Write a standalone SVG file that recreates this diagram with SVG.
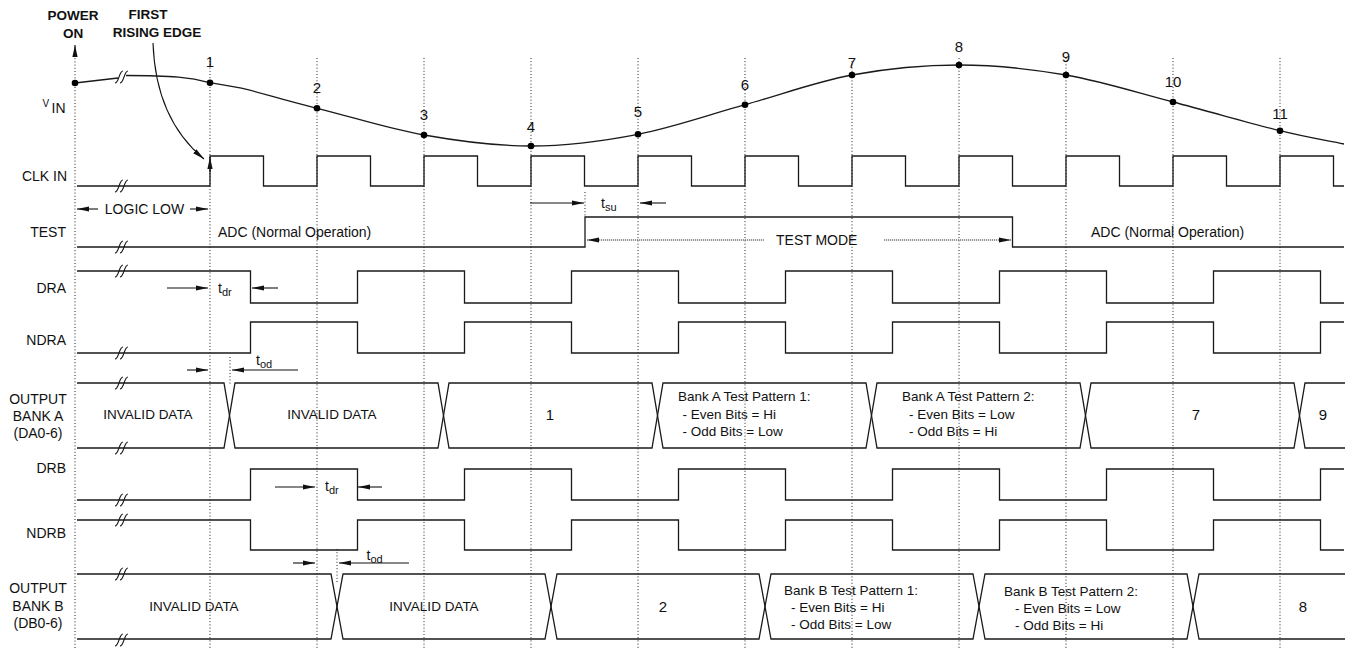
<svg xmlns="http://www.w3.org/2000/svg" width="1352" height="648" viewBox="0 0 1352 648">
<style>
text{font-family:"Liberation Sans",Arial,sans-serif;fill:#111}
.l{font-size:14px}
.n{font-size:15px;text-anchor:middle}
.m{font-size:13.5px}
.bold{font-weight:bold;font-size:13.5px}
.c{text-anchor:middle}
.e{text-anchor:end}
.sig{fill:none;stroke:#1a1a1a;stroke-width:1.3}
.grid{fill:none;stroke:#222;stroke-width:1;stroke-dasharray:1 2.2}
.arr{fill:none;stroke:#111;stroke-width:1.1;marker-end:url(#ah)}
.mode{fill:none;stroke:#777;stroke-width:1.3;stroke-dasharray:1.2 0.8;marker-end:url(#ah)}
.brk{fill:none;stroke:#1a1a1a;stroke-width:1.1}
</style>
<defs>
<marker id="ah" markerUnits="userSpaceOnUse" markerWidth="13" markerHeight="6" refX="12" refY="3" orient="auto">
<path d="M0,0.4 L12,3 L0,5.6 Z" fill="#111"/>
</marker>
<path id="brk" class="brk" d="M-7,6 C-5,6 -4,3 -3,0 S-1,-6 1,-6 M-2,6 C0,6 1,3 2,0 S4,-6 6,-6"/>
</defs>

<g id="connectors">
<g id="grid">
<path class="grid" d="M75,55 V648 M210,58 V648 M317,58 V648 M424,58 V648 M531,58 V648 M638,58 V648 M745,58 V648 M852,58 V648 M959,58 V648 M1066,58 V648 M1173,58 V648 M1280,58 V648 M230,357 V385 M337,549 V582 M585,192 V217"/>
</g>
<path class="arr" d="M75,57 V45"/>
<path class="arr" d="M210,172 V157"/>
<path class="arr" d="M153,43 C155,100 175,135 204,159"/>
<path class="arr" d="M98,209 H77"/>
<path class="arr" d="M190,209 H208"/>
<path class="arr" d="M530,203 H584"/>
<path class="arr" d="M666,203 H640"/>
<path class="mode" d="M764,240 H587"/>
<path class="mode" d="M884,240 H1011"/>
<path class="arr" d="M167,288 H208"/>
<path class="arr" d="M278,288 H252"/>
<path class="arr" d="M187,370 H208"/>
<path class="arr" d="M298,370 H232"/>
<path class="arr" d="M275,487 H315"/>
<path class="arr" d="M382,487 H358"/>
<path class="arr" d="M293,563 H315"/>
<path class="arr" d="M409,563 H339"/>
</g>

<g id="vin">
<path class="sig" d="M75,83 L118,78"/>
<path class="sig" d="M126,75.5 C140,75.5 160,75.5 178.5,77.2 C195,78.5 202,80.5 210,82.7 C226,85.5 241.5,88.2 241.5,88.2 C262,93 281.3,99.6 317,108.3 C352.7,117 388.3,128.7 424,135 C459.7,141.3 495.3,146.1 531,146 C566.7,145.9 602.3,141.2 638,134.3 C673.7,127.4 709.3,114.6 745,104.7 C780.7,94.8 816.3,81.6 852,75 C887.7,68.4 923.3,65 959,65 C994.7,65 1030.3,68.8 1066,75 C1101.7,81.2 1137.3,92.7 1173,102 C1208.7,111.3 1251.7,123.7 1280,130.7 C1308.3,137.7 1322,139.6 1344,144"/>
<use href="#brk" x="122" y="77"/>
<g fill="#000">
<circle cx="75" cy="83" r="3.3"/><circle cx="210" cy="82.7" r="3.3"/><circle cx="317" cy="108.3" r="3.3"/><circle cx="424" cy="135" r="3.3"/><circle cx="531" cy="146" r="3.3"/><circle cx="638" cy="134.3" r="3.3"/><circle cx="745" cy="104.7" r="3.3"/><circle cx="852" cy="75" r="3.3"/><circle cx="959" cy="65" r="3.3"/><circle cx="1066" cy="75" r="3.3"/><circle cx="1173" cy="102" r="3.3"/><circle cx="1280" cy="130.7" r="3.3"/>
</g>
<text class="n" x="210" y="67">1</text><text class="n" x="317" y="93">2</text><text class="n" x="424" y="120">3</text><text class="n" x="531" y="132">4</text><text class="n" x="638" y="117">5</text><text class="n" x="745" y="90">6</text><text class="n" x="852" y="68">7</text><text class="n" x="959" y="52">8</text><text class="n" x="1066" y="62">9</text><text class="n" x="1173" y="87">10</text><text class="n" x="1280" y="119">11</text>
</g>

<g id="labels">
<text class="bold c" x="73" y="20">POWER</text>
<text class="bold c" x="73" y="38">ON</text>
<text class="bold c" x="148" y="19">FIRST</text>
<text class="bold c" x="157" y="37">RISING EDGE</text>
<text x="42.5" y="107" style="font-size:10px">V</text><text class="l" x="51.5" y="113">IN</text>
<text class="l e" x="67" y="181">CLK IN</text>
<text class="l e" x="66" y="237">TEST</text>
<text class="l e" x="66" y="293">DRA</text>
<text class="l e" x="66" y="345">NDRA</text>
<text class="l c" x="38" y="404">OUTPUT</text>
<text class="l c" x="38" y="421">BANK A</text>
<text class="l c" x="38" y="438">(DA0-6)</text>
<text class="l e" x="66" y="473">DRB</text>
<text class="l e" x="66" y="538">NDRB</text>
<text class="l c" x="38" y="593">OUTPUT</text>
<text class="l c" x="38" y="611">BANK B</text>
<text class="l c" x="38" y="628">(DB0-6)</text>
<text class="l c" x="144.5" y="214">LOGIC LOW</text>
<text class="l" x="218" y="237">ADC (Normal Operation)</text>
<text class="l" x="1091" y="237">ADC (Normal Operation)</text>
<text class="l" x="776" y="245">TEST MODE</text>
<text class="l" x="601" y="208">t<tspan style="font-size:11px" dy="3">su</tspan></text>
<text class="l" x="218" y="293">t<tspan style="font-size:11px" dy="3">dr</tspan></text>
<text class="l" x="256" y="365">t<tspan style="font-size:11px" dy="2.5">od</tspan></text>
<text class="l" x="325" y="491">t<tspan style="font-size:11px" dy="3">dr</tspan></text>
<text class="l" x="366.5" y="560">t<tspan style="font-size:11px" dy="2.5">od</tspan></text>
</g>

<g id="clk">
<path class="sig" d="M77,186 H210 V156 H263.5 V186 H317 V156 H370.5 V186 H424 V156 H477.5 V186 H531 V156 H584.5 V186 H638 V156 H691.5 V186 H745 V156 H798.5 V186 H852 V156 H905.5 V186 H959 V156 H1012.5 V186 H1066 V156 H1119.5 V186 H1173 V156 H1226.5 V186 H1280 V156 H1333.5 V186 H1344"/>
<use href="#brk" x="122" y="186"/>
</g>

<g id="test">
<path class="sig" d="M77,247 H585 V217 H1012.5 V247 H1344"/>
<use href="#brk" x="122" y="247"/>
</g>

<g id="dra">
<path class="sig" d="M77,271 H250.5 V303 H357.5 V271 H464.5 V303 H571.5 V271 H678.5 V303 H785.5 V271 H892.5 V303 H999.5 V271 H1106.5 V303 H1213.5 V271 H1320.5 V303 H1344"/>
<use href="#brk" x="122" y="271"/>
</g>

<g id="ndra">
<path class="sig" d="M77,353 H250.5 V322 H357.5 V353 H464.5 V322 H571.5 V353 H678.5 V322 H785.5 V353 H892.5 V322 H999.5 V353 H1106.5 V322 H1213.5 V353 H1320.5 V322 H1344"/>
<use href="#brk" x="122" y="353"/>
</g>

<g id="busA">
<path class="sig" d="M77,383 H224 L235,448 H438 L449,383 H652 L663,448 H866 L877,383 H1080 L1091,448 H1294 L1305,383 H1345"/>
<path class="sig" d="M77,448 H224 L235,383 H438 L449,448 H652 L663,383 H866 L877,448 H1080 L1091,383 H1294 L1305,448 H1345"/>
<use href="#brk" x="122" y="383"/>
<use href="#brk" x="122" y="448"/>
<text class="m c" x="148" y="419">INVALID DATA</text>
<text class="m c" x="332" y="419">INVALID DATA</text>
<text class="n" x="550" y="420">1</text>
<text class="m" x="678" y="401">Bank A Test Pattern 1:</text>
<text class="m" x="682.5" y="419">- Even Bits = Hi</text>
<text class="m" x="682.5" y="436">- Odd Bits = Low</text>
<text class="m" x="902" y="401">Bank A Test Pattern 2:</text>
<text class="m" x="909" y="419">- Even Bits = Low</text>
<text class="m" x="909" y="436">- Odd Bits = Hi</text>
<text class="n" x="1196" y="420">7</text>
<text class="n" x="1323" y="420">9</text>
</g>

<g id="drb">
<path class="sig" d="M77,500 H250.5 V469 H357.5 V500 H464.5 V469 H571.5 V500 H678.5 V469 H785.5 V500 H892.5 V469 H999.5 V500 H1106.5 V469 H1213.5 V500 H1320.5 V469 H1344"/>
<use href="#brk" x="122" y="500"/>
</g>

<g id="ndrb">
<path class="sig" d="M77,520 H250.5 V550 H357.5 V520 H464.5 V550 H571.5 V520 H678.5 V550 H785.5 V520 H892.5 V550 H999.5 V520 H1106.5 V550 H1213.5 V520 H1320.5 V550 H1344"/>
<use href="#brk" x="122" y="520"/>
</g>

<g id="busB">
<path class="sig" d="M77,574 H331 L343,639 H545 L557,574 H759 L771,639 H973 L985,574 H1187 L1199,639 H1345"/>
<path class="sig" d="M77,639 H331 L343,574 H545 L557,639 H759 L771,574 H973 L985,639 H1187 L1199,574 H1345"/>
<use href="#brk" x="122" y="574"/>
<use href="#brk" x="122" y="640"/>
<text class="m c" x="194" y="611">INVALID DATA</text>
<text class="m c" x="434" y="611">INVALID DATA</text>
<text class="n" x="663" y="612">2</text>
<text class="m" x="784" y="595">Bank B Test Pattern 1:</text>
<text class="m" x="791" y="612">- Even Bits = Hi</text>
<text class="m" x="791" y="629">- Odd Bits = Low</text>
<text class="m" x="1004" y="596">Bank B Test Pattern 2:</text>
<text class="m" x="1015" y="613">- Even Bits = Low</text>
<text class="m" x="1015" y="630">- Odd Bits = Hi</text>
<text class="n" x="1303" y="612">8</text>
</g>
</svg>
